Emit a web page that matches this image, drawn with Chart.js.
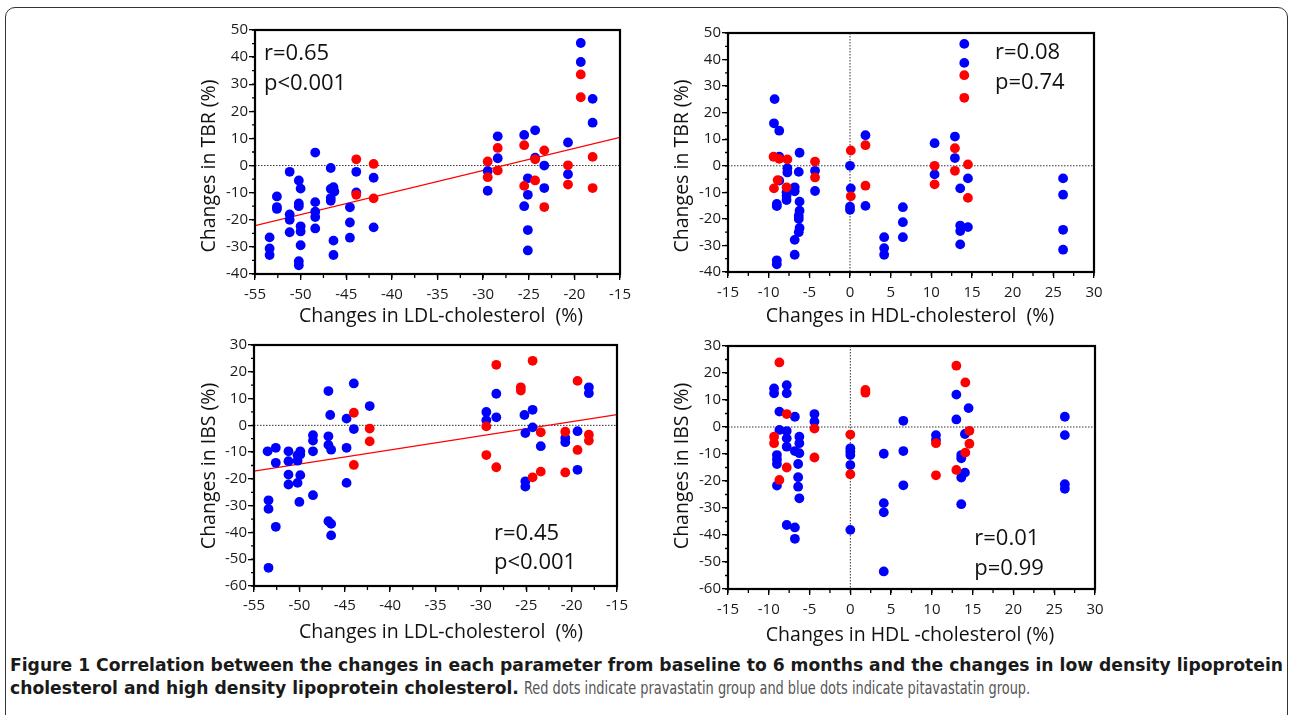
<!DOCTYPE html>
<html>
<head>
<meta charset="utf-8">
<script src="https://cdn.jsdelivr.net/npm/chart.js@4.4.1/dist/chart.umd.min.js"></script>
<style>
html, body { margin: 0; padding: 0; background: #fff; }
#fig { position: relative; width: 1290px; height: 715px; overflow: hidden; font-family: "Open Sans", sans-serif; color: #111; }
#border { position: absolute; left: 5px; top: 7px; width: 1283px; height: 740px; box-sizing: border-box; border: 1.5px solid #333; border-radius: 10px; }
canvas { position: absolute; }
.ytitle { position: absolute; white-space: nowrap; font-size: 19.5px; transform: translate(-50%, -50%) rotate(-90deg); }
.xtitle { position: absolute; white-space: nowrap; font-size: 19.5px; transform: translate(-50%, -50%); }
.cap { position: absolute; left: 10px; white-space: nowrap; font-size: 17px; line-height: 20px; transform-origin: 0 50%;
       font-family: "Liberation Sans Narrow", "DejaVu Sans Condensed", "Open Sans", sans-serif; font-stretch: condensed; }
.cap.b { font-weight: bold; color: #1a1a1a; }
.cap.n { color: #555; }
</style>
</head>
<body>
<div id="fig">
  <div id="border"></div>
  <canvas id="c1"></canvas>
  <canvas id="c2"></canvas>
  <canvas id="c3"></canvas>
  <canvas id="c4"></canvas>
  <div class="ytitle" style="left:207px;top:166px">Changes in TBR (%)</div>
  <div class="xtitle" style="left:441px;top:314px">Changes in LDL-cholesterol&nbsp; (%)</div>
  <div class="ytitle" style="left:680px;top:166px">Changes in TBR (%)</div>
  <div class="xtitle" style="left:910px;top:314px">Changes in HDL-cholesterol&nbsp; (%)</div>
  <div class="ytitle" style="left:207px;top:466px">Changes in IBS (%)</div>
  <div class="xtitle" style="left:441px;top:630px">Changes in LDL-cholesterol&nbsp; (%)</div>
  <div class="ytitle" style="left:680px;top:466px">Changes in IBS (%)</div>
  <div class="xtitle" style="left:910px;top:633px">Changes in HDL -cholesterol (%)</div>
  <div class="cap b" id="cap1" style="top:655px">Figure 1 Correlation between the changes in each parameter from baseline to 6 months and the changes in low density lipoprotein</div>
  <div class="cap b" id="cap2" style="top:678px">cholesterol and high density lipoprotein cholesterol.</div>
  <div class="cap n" id="cap3" style="top:678px">Red dots indicate pravastatin group and blue dots indicate pitavastatin group.</div>
</div>
<script>
// axes
var ldlTicks = [-55, -50, -45, -40, -35, -30, -25, -20, -15];
var hdlTicks = [-15, -10, -5, 0, 5, 10, 15, 20, 25, 30];
var tbrTicks = [-40, -30, -20, -10, 0, 10, 20, 30, 40, 50];
var ibsTicks = [-60, -50, -40, -30, -20, -10, 0, 10, 20, 30];

// TBR vs LDL (pitavastatin = blue, pravastatin = red)
var tbrLdlBlue = [[-48.4,4.8],[-51.2,-2.3],[-50.2,-5.5],[-50.0,-8.5],[-52.6,-11.4],[-52.6,-15.3],[-52.6,-16],[-51.2,-18],[-51.2,-20],
  [-50.2,-14],[-50.2,-15],[-48.4,-13.5],[-48.4,-17],[-48.4,-19],[-48.4,-23.2],[-50,-22.4],[-50,-24.3],[-51.2,-24.6],[-50,-29.4],
  [-53.4,-26.5],[-53.4,-30.6],[-53.4,-33],[-50.2,-35.3],[-50.2,-36.8],[-46.7,-0.9],[-46.4,-8],[-46.7,-8.6],[-46.3,-9.6],[-46.7,-12],
  [-46.7,-13],[-46.4,-27.7],[-46.4,-33],[-44.6,-15.4],[-44.6,-21],[-44.6,-26.6],[-43.9,-2.3],[-43.9,-9.9],[-42.0,-4.5],[-42.0,-22.8],
  [-19.3,45.2],[-19.3,38.2],[-18.0,24.6],[-18.0,15.8],[-28.4,10.8],[-28.4,2.7],[-29.5,-2],[-29.5,-9.3],[-25.5,11.3],[-24.3,13],
  [-24.3,2.9],[-23.3,0],[-23.3,-8.3],[-25.1,-4.7],[-25.1,-10.8],[-25.5,-15],[-25.1,-23.8],[-25.1,-31.3],[-20.7,8.5],[-20.7,-3.2]];
var tbrLdlRed = [[-43.9,2.3],[-43.9,-10.8],[-42.0,0.6],[-42.0,-12.1],[-19.3,33.6],[-19.3,25.2],[-18.0,3.2],[-18.0,-8.3],[-28.4,6.5],
  [-28.4,-1.8],[-29.5,1.5],[-29.5,-4.3],[-25.5,7.5],[-25.5,-7.5],[-24.3,2.3],[-24.3,-5.5],[-23.3,5.6],[-23.3,-15.3],[-20.7,0.1],[-20.7,-7]];
var tbrLdlFit = [[-55,-22.2],[-15,10.4]];

// TBR vs HDL
var tbrHdlBlue = [[-9.27,25.1],[-9.35,16],[-8.7,13.2],[-8.7,3.4],[-8.7,-5.6],[-9.0,-14.4],[-9.0,-15.2],[-9.0,-35.6],[-9.0,-37.1],
  [-7.7,-0.9],[-7.7,-2.5],[-7.8,-10],[-7.8,-11.3],[-7.8,-12.9],[-6.8,-8.1],[-6.8,-9.6],[-6.2,4.9],[-6.3,-2.3],[-6.2,-13.5],[-6.2,-16.9],
  [-6.3,-18.8],[-6.3,-20],[-6.2,-23.4],[-6.3,-25],[-6.8,-27.9],[-6.8,-33.5],[-4.3,-1.9],[-4.3,-9.5],[0,0],[0.1,-8.5],[0,-15.4],[0,-16.6],
  [1.9,11.5],[1.9,-15.1],[4.2,-26.9],[4.2,-31],[4.2,-33.5],[6.5,-15.6],[6.5,-21.25],[6.5,-26.9],[10.4,8.5],[10.4,-3.25],[12.9,11],
  [12.9,2.9],[14.05,45.9],[14.05,38.75],[14.5,-4.75],[13.55,-8.5],[13.55,-22.5],[13.55,-24.6],[14.5,-23.1],[13.55,-29.6],[26.2,-4.75],
  [26.2,-10.9],[26.2,-24.1],[26.2,-31.6]];
var tbrHdlRed = [[-9.4,3.4],[-8.7,2.6],[-7.7,2.4],[-8.9,-5.4],[-9.35,-8.5],[-7.8,-8.1],[-4.3,1.6],[-4.3,-4.4],[0.1,5.75],[0.1,-11.5],
  [1.9,7.75],[1.9,-7.5],[14.05,34.1],[14.05,25.6],[10.4,0],[10.4,-7],[12.9,6.6],[12.9,-1.9],[14.5,0.5],[14.5,-12.1]];

// IBS vs LDL
var ibsLdlBlue = [[-44.0,15.65],[-46.8,12.8],[-42.25,7.2],[-46.6,3.85],[-44.8,2.5],[-44.0,-1.4],[-53.5,-9.7],[-52.6,-8.4],[-52.6,-14.0],
  [-51.2,-9.7],[-51.2,-13.4],[-50.2,-11.2],[-50.2,-13.2],[-49.9,-9.7],[-49.9,-10.9],[-51.2,-18.4],[-51.2,-22.1],[-49.9,-18.6],[-50.2,-21.5],
  [-50.0,-28.6],[-53.4,-28],[-53.4,-31.2],[-52.6,-37.9],[-53.4,-53.2],[-48.5,-3.7],[-48.5,-5.7],[-48.5,-9.7],[-48.5,-26.1],[-46.8,-4.1],
  [-46.8,-7.3],[-46.5,-9.1],[-46.8,-35.8],[-46.5,-36.8],[-46.5,-41.1],[-44.8,-8.4],[-44.8,-21.5],
  [-28.3,11.8],[-29.4,5],[-29.4,1.9],[-28.3,3],[-18.1,14.2],[-18.1,12.0],[-25.2,3.85],[-24.3,5.8],[-24.3,-0.75],[-25.1,-2.9],[-23.4,-7.8],
  [-20.7,-4.7],[-20.7,-6.3],[-19.35,-2.2],[-19.35,-16.6],[-25.1,-20.9],[-25.1,-22.9]];
var ibsLdlRed = [[-44.0,4.7],[-44.0,-14.8],[-42.25,-1.2],[-42.25,-6],[-28.3,22.6],[-24.3,24.1],[-25.6,14.2],[-25.6,13.0],[-19.35,16.6],
  [-29.4,-0.4],[-23.4,-2.6],[-20.7,-2.4],[-18.1,-3.5],[-18.1,-5.7],[-19.35,-9.2],[-29.4,-11.1],[-28.3,-15.65],[-24.3,-19.4],[-23.4,-17.3],[-20.7,-17.6]];
var ibsLdlFit = [[-55,-17.1],[-15,4.0]];

// IBS vs HDL
var ibsHdlBlue = [[-9.35,14.3],[-9.35,12.5],[-8.7,5.7],[-8.7,-1.1],[-9.0,-10.4],[-9.0,-12],[-9.0,-13.7],[-9.0,-21.7],[-7.8,15.5],[-7.8,12.5],
  [-7.8,-1.5],[-7.8,-4.2],[-7.8,-7.3],[-6.8,3.8],[-6.8,-8.9],[-6.25,-3.6],[-6.25,-6],[-6.25,-9.7],[-6.4,-13.7],[-6.4,-18.6],[-6.4,-22.1],
  [-6.25,-26.4],[-7.8,-36.3],[-6.8,-37.2],[-6.8,-41.4],[-4.4,4.8],[-4.4,2],[0,-7.9],[0,-9.1],[0,-10.4],[0,-14.1],[0,-38.1],[4.1,-9.9],
  [4.1,-28.2],[4.1,-31.6],[4.1,-53.5],[6.5,2.3],[6.5,-8.9],[6.5,-21.6],[10.5,-3],[10.5,-4.8],[13.0,12],[13.0,2.8],[14.5,7],[14.05,-2.6],
  [13.6,-10.4],[13.6,-11.6],[14.05,-16.9],[13.6,-18.7],[13.6,-28.6],[26.3,3.8],[26.3,-3],[26.3,-21.2],[26.3,-22.9]];
var ibsHdlRed = [[-8.7,23.9],[-7.8,4.8],[-9.35,-3.6],[-9.35,-6.0],[-7.8,-15],[-8.7,-19.6],[-4.4,-0.6],[-4.4,-11.3],[0,-2.8],[0,-17.5],
  [1.85,13.7],[1.85,12.7],[13.0,22.7],[14.1,16.5],[14.6,-1.4],[14.6,-6.2],[14.1,-9.5],[10.5,-6],[10.5,-17.9],[13.0,-15.9]];

function pts(arr) { return arr.map(function (p) { return { x: p[0], y: p[1] }; }); }

// frame, minor ticks, dotted zero lines and r/p notes
var extras = {
    id: 'extras',
    beforeDatasetsDraw: function (chart, args, o) {
        var ctx = chart.ctx, a = chart.chartArea;
        ctx.save();
        ctx.strokeStyle = '#333';
        ctx.lineWidth = 1;
        ctx.setLineDash([1.5, 1.5]);
        ctx.beginPath();
        var y0 = chart.scales.y.getPixelForValue(0);
        ctx.moveTo(a.left, y0); ctx.lineTo(a.right, y0);
        if (o.vZero) {
            var x0 = chart.scales.x.getPixelForValue(0);
            ctx.moveTo(x0, a.top); ctx.lineTo(x0, a.bottom);
        }
        ctx.stroke();
        ctx.restore();
    },
    afterDraw: function (chart, args, o) {
        var ctx = chart.ctx, a = chart.chartArea, sx = chart.scales.x, sy = chart.scales.y, v;
        ctx.save();
        ctx.strokeStyle = '#000';
        ctx.lineWidth = 1.3;
        ctx.beginPath();
        for (v = sx.min; v <= sx.max + 1e-6; v += o.xMinor) {
            var px = sx.getPixelForValue(v);
            ctx.moveTo(px, a.bottom); ctx.lineTo(px, a.bottom + 4);
        }
        for (v = sy.min; v <= sy.max + 1e-6; v += o.yMinor) {
            var py = sy.getPixelForValue(v);
            ctx.moveTo(a.left, py); ctx.lineTo(a.left - 3, py);
        }
        ctx.stroke();
        ctx.lineWidth = 2.2;
        ctx.strokeRect(a.left, a.top, a.right - a.left, a.bottom - a.top);
        ctx.fillStyle = '#111';
        ctx.font = '22px "Open Sans"';
        ctx.textBaseline = 'alphabetic';
        o.notes.forEach(function (n) { ctx.fillText(n.text, n.x - o.ox, n.y - o.oy); });
        ctx.restore();
    }
};

function panel(id, plot, xTicks, yTicks, blue, red, fit, notes, vZero, xPad) {
    var canvas = document.getElementById(id);
    var left = plot.l - 60, top = plot.t - 12;
    canvas.width = plot.r - plot.l + 80;
    canvas.height = plot.b - plot.t + 52;
    canvas.style.left = left + 'px';
    canvas.style.top = top + 'px';

    var datasets = [
        { data: pts(red), backgroundColor: '#ff0000', pointRadius: 4.9, borderWidth: 0, order: 1 },
        { data: pts(blue), backgroundColor: '#0000ff', pointRadius: 4.9, borderWidth: 0, order: 2 }
    ];
    if (fit) {
        datasets.push({ type: 'line', data: pts(fit), borderColor: '#ff0000', borderWidth: 1.3, pointRadius: 0, order: 3 });
    }
    var tickFont = { family: '"Open Sans"', size: 15 };

    return new Chart(canvas, {
        type: 'scatter',
        data: { datasets: datasets },
        plugins: [extras],
        options: {
            responsive: false,
            animation: false,
            events: [],
            layout: { padding: { left: 0, top: 12, right: 20, bottom: 0 } },
            plugins: {
                legend: { display: false },
                tooltip: { enabled: false },
                extras: { vZero: vZero, xMinor: 2.5, yMinor: 5, notes: notes, ox: left, oy: top }
            },
            scales: {
                x: {
                    min: xTicks[0], max: xTicks[xTicks.length - 1],
                    afterBuildTicks: function (s) { s.ticks = xTicks.map(function (t) { return { value: t }; }); },
                    afterFit: function (s) { s.height = 40; },
                    ticks: { color: '#1a1a1a', font: tickFont, padding: xPad, maxRotation: 0, autoSkip: false },
                    grid: { drawOnChartArea: false, tickLength: 6, color: '#000', lineWidth: 1.3 },
                    border: { display: false }
                },
                y: {
                    min: yTicks[0], max: yTicks[yTicks.length - 1],
                    afterBuildTicks: function (s) { s.ticks = yTicks.map(function (t) { return { value: t }; }); },
                    afterFit: function (s) { s.width = 60; },
                    ticks: { color: '#1a1a1a', font: tickFont, padding: 1, autoSkip: false },
                    grid: { drawOnChartArea: false, tickLength: 6, color: '#000', lineWidth: 1.3 },
                    border: { display: false }
                }
            }
        }
    });
}

panel('c1', { l: 255, t: 30, r: 620, b: 274 }, ldlTicks, tbrTicks, tbrLdlBlue, tbrLdlRed, tbrLdlFit,
    [{ text: 'r=0.65', x: 264, y: 60 }, { text: 'p<0.001', x: 264, y: 90 }], false, 6);
panel('c2', { l: 728, t: 33.4, r: 1094, b: 273.3 }, hdlTicks, tbrTicks, tbrHdlBlue, tbrHdlRed, null,
    [{ text: 'r=0.08', x: 995, y: 59 }, { text: 'p=0.74', x: 995, y: 89 }], true, 6);
panel('c3', { l: 254, t: 345.2, r: 617, b: 586.7 }, ldlTicks, ibsTicks, ibsLdlBlue, ibsLdlRed, ibsLdlFit,
    [{ text: 'r=0.45', x: 494, y: 540 }, { text: 'p<0.001', x: 494, y: 569 }], false, 5);
panel('c4', { l: 727.7, t: 346, r: 1095, b: 589.3 }, hdlTicks, ibsTicks, ibsHdlBlue, ibsHdlRed, null,
    [{ text: 'r=0.01', x: 974, y: 545 }, { text: 'p=0.99', x: 974, y: 575 }], true, 6);

// caption: bold lines stretched so line 1 spans the box, grey sentence ends near x=1030
function fitCaption() {
    var c1 = document.getElementById('cap1'), c2 = document.getElementById('cap2'), c3 = document.getElementById('cap3');
    c1.style.transform = c2.style.transform = c3.style.transform = 'none';
    var w1 = c1.getBoundingClientRect().width;
    var w2 = c2.getBoundingClientRect().width;
    var w3 = c3.getBoundingClientRect().width;
    var k = 1273 / w1;
    c1.style.transform = c2.style.transform = 'scaleX(' + k + ')';
    var startN = 10 + w2 * k + 5;
    c3.style.left = startN + 'px';
    c3.style.transform = 'scaleX(' + ((1030 - startN) / w3) + ')';
}
fitCaption();
if (document.fonts && document.fonts.ready) document.fonts.ready.then(fitCaption);
</script>
</body>
</html>
